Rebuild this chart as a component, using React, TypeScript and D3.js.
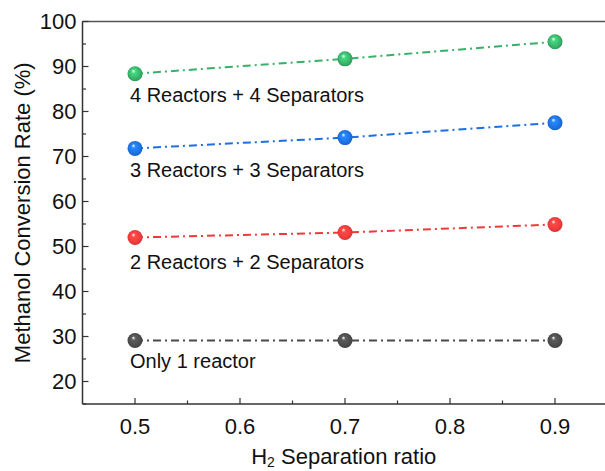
import React from 'react';
import * as d3 from 'd3';

const ratios = [0.5, 0.7, 0.9];
const seriesNames = ['4 Reactors + 4 Separators', '3 Reactors + 3 Separators', '2 Reactors + 2 Separators', 'Only 1 reactor'];
const fourReactors = [88.4, 91.7, 95.5];
const threeReactors = [71.8, 74.2, 77.5];
const twoReactors = [52.0, 53.1, 54.9];
const oneReactor = [29.1, 29.1, 29.1];
const yTicks = [20, 30, 40, 50, 60, 70, 80, 90, 100];
const xTicks = [0.5, 0.6, 0.7, 0.8, 0.9];

const colors = ['#37b068', '#1d6fe2', '#ef3a3a', '#4a4a4a'];
const labelDy = [28, 29, 31, 27];

const W = 605;
const H = 471;
const font = 'Arial, "Liberation Sans", sans-serif';

const App = () => {
  const x = d3.scaleLinear().domain([0.45, 0.95]).range([82.5, 607.5]);
  const y = d3.scaleLinear().domain([15, 100]).range([404, 21.5]);
  const all = [fourReactors, threeReactors, twoReactors, oneReactor];
  const line = d3.line<number>().x((_, i) => x(ratios[i])).y(d => y(d));
  const minorY = d3.range(15, 100, 5).filter(v => v % 10 !== 0);
  const minorX = [0.55, 0.65, 0.75, 0.85];
  const axisColor = '#333';

  return (
    <svg width={W} height={H} style={{ position: 'absolute', left: 0, top: 0, background: '#fff' }}>
      <defs>
        {colors.map((c, i) => (
          <radialGradient key={i} id={`ball${i}`} cx="0.5" cy="0.5" r="0.55" fx="0.38" fy="0.3">
            <stop offset="0" stopColor="#fff" />
            <stop offset="0.25" stopColor={d3.color(c)!.brighter(0.6).formatHex()} />
            <stop offset="0.75" stopColor={c} />
            <stop offset="1" stopColor={d3.color(c)!.darker(0.6).formatHex()} />
          </radialGradient>
        ))}
      </defs>

      {/* frame */}
      <line x1={x(0.45)} x2={W} y1={y(100)} y2={y(100)} stroke="#555" strokeWidth={1.5} />
      <line x1={x(0.45)} x2={x(0.45)} y1={y(100)} y2={y(15)} stroke={axisColor} strokeWidth={1.5} />
      <line x1={x(0.45)} x2={W} y1={y(15)} y2={y(15)} stroke={axisColor} strokeWidth={1.5} />

      {/* y ticks */}
      {yTicks.map(t => (
        <g key={t}>
          <line x1={x(0.45)} x2={x(0.45) + 6} y1={y(t)} y2={y(t)} stroke={axisColor} strokeWidth={1.2} />
          <text x={x(0.45) - 6} y={y(t)} dy="0.36em" textAnchor="end" fontFamily={font} fontSize={22} fill="#111">{t}</text>
        </g>
      ))}
      {minorY.map(t => (
        <line key={t} x1={x(0.45)} x2={x(0.45) + 3.5} y1={y(t)} y2={y(t)} stroke={axisColor} strokeWidth={1.2} />
      ))}

      {/* x ticks */}
      {xTicks.map(t => (
        <g key={t}>
          <line x1={x(t)} x2={x(t)} y1={y(15)} y2={y(15) - 6} stroke={axisColor} strokeWidth={1.2} />
          <text x={x(t)} y={y(15) + 30} textAnchor="middle" fontFamily={font} fontSize={22} fill="#111">{t.toFixed(1)}</text>
        </g>
      ))}
      {minorX.map(t => (
        <line key={t} x1={x(t)} x2={x(t)} y1={y(15)} y2={y(15) - 3.5} stroke={axisColor} strokeWidth={1.2} />
      ))}

      {/* axis titles */}
      <text transform={`translate(30,${(y(15) + y(100)) / 2}) rotate(-90)`} textAnchor="middle" fontFamily={font} fontSize={22} fill="#111">
        Methanol Conversion Rate (%)
      </text>
      <text x={(x(0.45) + W) / 2} y={464} textAnchor="middle" fontFamily={font} fontSize={22} fill="#111">
        H<tspan fontSize={14} dy={3}>2</tspan><tspan dy={-3}> Separation ratio</tspan>
      </text>

      {/* series */}
      {all.map((vals, i) => (
        <g key={i}>
          <path d={line(vals)!} fill="none" stroke={colors[i]} strokeWidth={2} strokeDasharray="8 4 2 4" />
          {vals.map((v, j) => (
            <circle key={j} cx={x(ratios[j])} cy={y(v)} r={7.5} fill={`url(#ball${i})`} />
          ))}
          <text x={x(ratios[0]) - 5} y={y(vals[0]) + labelDy[i]} fontFamily={font} fontSize={20} fill="#111">{seriesNames[i]}</text>
        </g>
      ))}
    </svg>
  );
};

export default App;
